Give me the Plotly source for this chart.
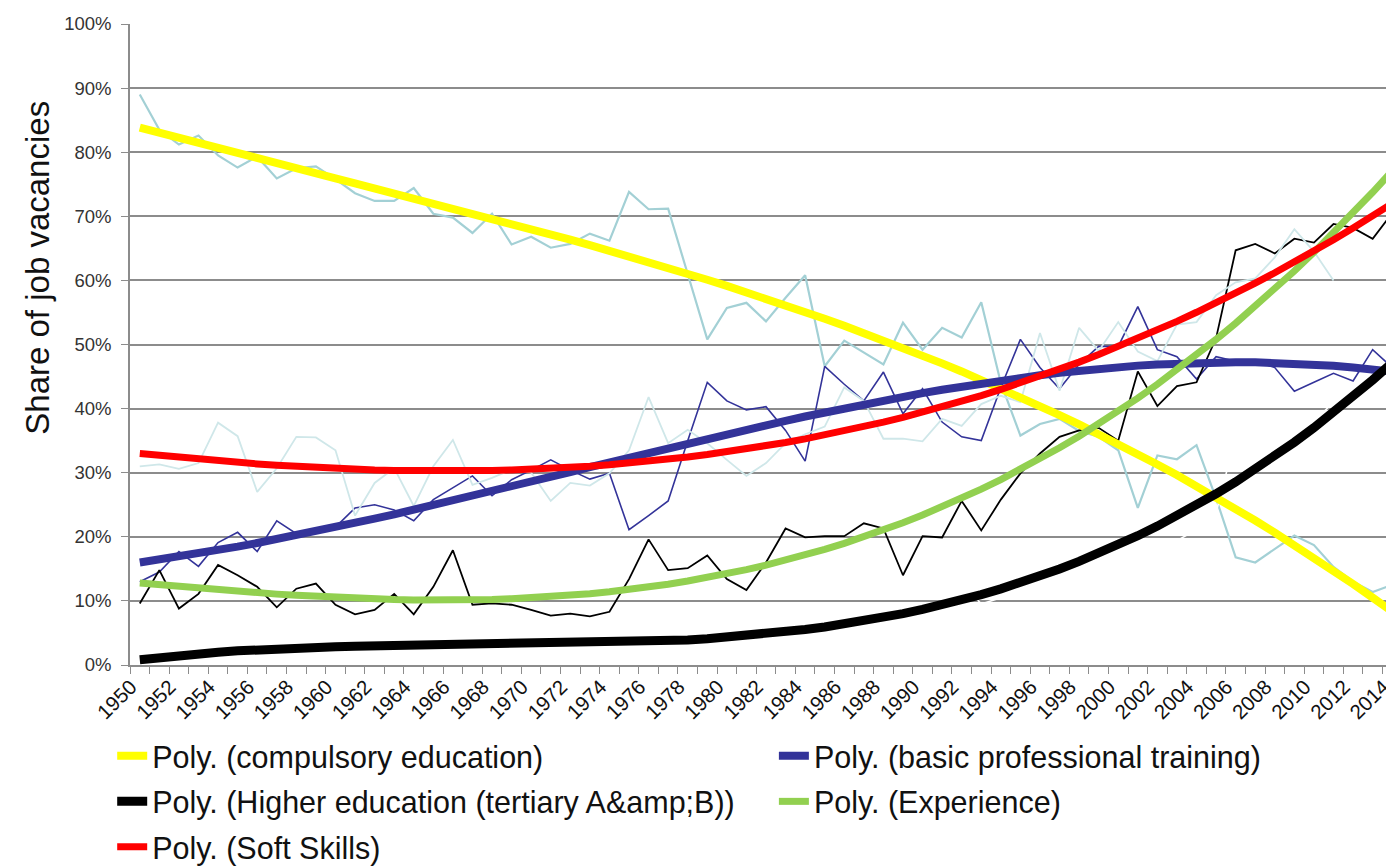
import numpy as np
import plotly.graph_objects as go

years = list(range(1950, 2015))

compulsory = [89.0, 83.5, 81.2, 82.6, 79.5, 77.6, 79.3, 75.9, 77.5, 77.8,
              75.8, 73.6, 72.4, 72.4, 74.4, 70.4, 69.8, 67.4, 70.4, 65.6,
              66.8, 65.1, 65.7, 67.3, 66.2, 73.8, 71.1, 71.2, 61.0, 50.8,
              55.7, 56.5, 53.6, 57.3, 60.8, 46.6, 50.6, 48.8, 46.9, 53.4,
              49.2, 52.6, 51.1, 56.6, 44.0, 35.8, 37.6, 38.4, 36.5, 35.6,
              33.5, 24.5, 32.7, 32.1, 34.3, 26.0, 16.8, 16.0, 18.1, 20.2,
              18.7, 15.3, 13.0, 11.4, 12.5]

basic_training = [13.0, 14.5, 17.7, 15.4, 19.1, 20.7, 17.7, 22.5, 20.5, 21.0,
                  21.5, 24.5, 25.0, 24.2, 22.5, 25.8, 27.6, 29.5, 26.4, 28.9,
                  30.4, 32.0, 30.4, 29.0, 29.9, 21.1, 23.3, 25.6, 35.0, 44.1,
                  41.2, 39.8, 40.3, 36.6, 31.8, 46.6, 43.8, 41.2, 45.7, 39.2,
                  43.1, 37.9, 35.6, 35.0, 43.3, 50.8, 46.4, 43.1, 46.9, 49.7,
                  49.7, 55.9, 49.2, 48.1, 44.6, 48.1, 47.4, 47.4, 46.4, 42.7,
                  44.1, 45.5, 44.3, 49.2, 46.4]

higher_education = [0.0, 1.0, 1.5, 2.5, 3.0, 2.0, 3.0, 2.5, 3.5, 2.0,
                    3.0, 2.5, 3.5, 2.5, 3.0, 2.0, 3.5, 2.5, 3.0, 2.0,
                    3.5, 2.5, 3.0, 2.5, 3.5, 4.5, 5.0, 4.0, 3.5, 4.5,
                    4.0, 5.0, 4.5, 5.5, 6.0, 6.5, 7.0, 9.5, 8.0, 7.5,
                    7.8, 10.0, 13.0, 9.5, 10.5, 12.5, 14.0, 15.5, 16.5, 15.0,
                    16.8, 19.4, 18.1, 19.4, 21.1, 23.8, 35.6, 36.4, 35.3, 36.9,
                    38.0, 41.0, 44.0, 41.5, 43.0]

experience = [9.6, 14.8, 8.8, 11.1, 15.6, 14.0, 12.2, 9.0, 11.9, 12.7,
              9.4, 7.9, 8.6, 11.1, 7.9, 12.2, 17.9, 9.4, 9.6, 9.4,
              8.6, 7.7, 8.0, 7.6, 8.3, 13.4, 19.6, 14.8, 15.1, 17.1,
              13.4, 11.7, 16.0, 21.3, 19.9, 20.1, 20.1, 22.1, 21.3, 14.0,
              20.1, 19.9, 25.6, 21.0, 25.8, 29.9, 33.0, 35.6, 36.6, 37.0,
              35.0, 45.8, 40.4, 43.5, 44.1, 51.0, 64.7, 65.7, 64.2, 66.5,
              65.9, 68.8, 68.2, 66.5, 70.5]

soft_skills = [31.0, 31.3, 30.6, 31.5, 37.8, 35.7, 27.0, 30.7, 35.6, 35.5,
               33.5, 23.3, 28.4, 30.7, 24.8, 31.0, 35.1, 28.1, 29.2, 30.5,
               30.0, 25.6, 28.4, 28.0, 29.9, 33.5, 41.8, 34.6, 36.7, 34.6,
               32.0, 29.5, 31.5, 34.6, 36.0, 37.2, 43.3, 41.2, 35.3, 35.3,
               34.9, 38.4, 37.3, 40.7, 42.0, 41.0, 51.8, 42.8, 52.6, 49.0,
               53.5, 48.9, 47.4, 53.1, 53.5, 57.7, 59.7, 60.3, 63.6, 68.0,
               64.5, 60.0, None, None, None]

trend_names = ["Poly. (compulsory education)",
               "Poly. (basic professional training)",
               "Poly. (Higher education (tertiary A&amp;amp;B))",
               "Poly. (Experience)",
               "Poly. (Soft Skills)"]

series = [compulsory, basic_training, higher_education, experience, soft_skills]
raw_colors = ["#A3D0D5", "#333399", "#FFFFFF", "#000000", "#CFE7E9"]
raw_widths = [2.2, 1.6, 1.6, 1.8, 1.8]
trend_colors = ["#FFFF00", "#333399", "#000000", "#92D050", "#FF0000"]
trend_widths = [8, 8, 9, 7, 7]
trend_order = [3, 3, 3, 3, 3]
legend_ids = ["legend", "legend2", "legend3", "legend4", "legend5"]


def poly_trend(values, order):
    x = np.array(years, dtype=float) - years[0]
    y = np.array([np.nan if v is None else v for v in values], dtype=float)
    m = ~np.isnan(y)
    coef = np.polyfit(x[m], y[m], order)
    return np.polyval(coef, x)


fig = go.Figure()

for vals, col, w in zip(series, raw_colors, raw_widths):
    fig.add_trace(go.Scatter(x=years, y=vals, mode="lines",
                             line=dict(color=col, width=w),
                             showlegend=False, hoverinfo="skip",
                             connectgaps=False))

for vals, name, col, w, order, lg in zip(series, trend_names, trend_colors,
                                         trend_widths, trend_order, legend_ids):
    fig.add_trace(go.Scatter(x=years, y=poly_trend(vals, order), mode="lines",
                             name=name, line=dict(color=col, width=w),
                             legend=lg))

font_family = "Arial, Liberation Sans, sans-serif"
grid_col = "#8C8C8C"
legend_common = dict(orientation="h", xanchor="left", yanchor="middle",
                     font=dict(size=30.5, color="#111111"),
                     bgcolor="rgba(0,0,0,0)")
col_left, col_right = -0.014, 0.5062
row_y = [-0.142, -0.213, -0.284]

fig.update_layout(
    width=1394, height=866,
    margin=dict(l=122, r=0, t=16, b=202),
    paper_bgcolor="white", plot_bgcolor="white",
    font=dict(family=font_family, color="#222222"),
    xaxis=dict(range=[1949.5, 2014.5], tickvals=years[::2],
               ticktext=[str(y) for y in years[::2]], tickangle=-45,
               ticks="", showgrid=False, zeroline=False,
               ticklabeloverflow="allow", ticklabelshift=-9,
               showline=True, linecolor=grid_col, linewidth=1.5,
               tickfont=dict(size=20.5, color="#111111"),
               minor=dict(tickvals=[y - 0.5 for y in years] + [2014.5],
                          ticks="outside", ticklen=7, tickcolor=grid_col,
                          tickwidth=1.2, showgrid=False)),
    yaxis=dict(range=[0, 100], dtick=10, ticksuffix="%",
               showgrid=True, gridcolor=grid_col, gridwidth=1.5,
               zeroline=False, showline=True, linecolor=grid_col,
               linewidth=1.5, ticks="outside", ticklen=7, tickcolor=grid_col,
               ticklabelstandoff=6,
               tickfont=dict(size=18.5, color="#333333")),
    annotations=[dict(text="Share of job vacancies", textangle=-90,
                      xref="paper", yref="paper", x=-0.073, y=0.62,
                      xanchor="center", yanchor="middle",
                      showarrow=False, font=dict(size=33, color="#111111"))],
    legend=dict(x=col_left, y=row_y[0], **legend_common),
    legend2=dict(x=col_right, y=row_y[0], **legend_common),
    legend3=dict(x=col_left, y=row_y[1], **legend_common),
    legend4=dict(x=col_right, y=row_y[1], **legend_common),
    legend5=dict(x=col_left, y=row_y[2], **legend_common),
)

fig.write_html("out.html")
